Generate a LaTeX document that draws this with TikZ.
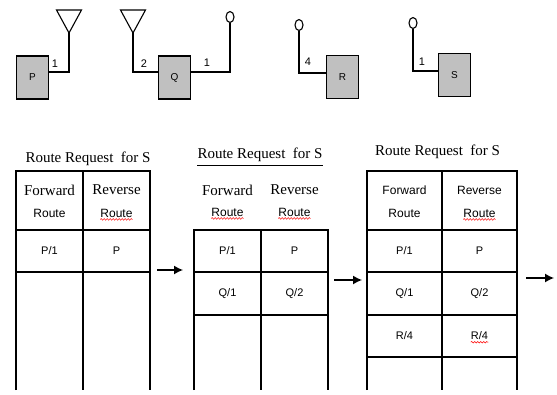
\documentclass[tikz,border=0pt]{standalone}
\usepackage{fontspec}
\setmainfont{Liberation Serif}
\newfontfamily\pixfont{Liberation Sans}
\usetikzlibrary{shapes.geometric,arrows.meta,decorations.pathmorphing}
\definecolor{boxgray}{RGB}{192,192,192}

\begin{document}
\begin{tikzpicture}[x=1pt,y=-1pt]
    % ==========================
    % 設定
    % ==========================
    \def\btm{390} % 表の下端
    \tikzset{
        nodebox/.style={draw, fill=boxgray, line width=1.3pt, minimum width=32pt, minimum height=43pt, inner sep=0pt, font=\pixfont\fontsize{10}{10}\selectfont}, % ノードの箱
        ant/.style={ellipse, draw, line width=1.1pt, minimum width=8pt, minimum height=11pt, inner sep=0pt}, % 丸アンテナ
        wire/.style={line width=1.1pt},
        port/.style={font=\pixfont\fontsize{11}{11}\selectfont, inner sep=0pt}, % ポート番号
        title/.style={font=\fontsize{15}{17}\selectfont, inner sep=0pt},
        head/.style={font=\fontsize{15}{17}\selectfont, inner sep=0pt},
        headsf/.style={font=\pixfont\fontsize{12}{12}\selectfont, inner sep=0pt},
        sub/.style={font=\pixfont\fontsize{12}{12}\selectfont, inner sep=0pt},
        cell/.style={font=\pixfont\fontsize{11}{11}\selectfont, inner sep=0pt},
        grid/.style={line width=1.2pt},
        flow/.style={line width=1.3pt, -{Latex[length=9pt,width=9pt]}},
        typo/.style={red, line width=0.5pt, decorate, decoration={snake, amplitude=0.8pt, segment length=3pt}}
    }
    \useasboundingbox (0,0) rectangle (557,394);

    % ==========================
    % 1. 上段のノード
    % ==========================
    \node[nodebox] (P) at (32.5,77.5) {P};
    \node[nodebox] (Q) at (174.5,77.5) {Q};
    \node[nodebox] (R) at (342.5,77) {R};
    \node[nodebox] (S) at (454.5,75) {S};

    % P: 三角アンテナ
    \coordinate (Pj) at (69,72);
    \coordinate (Pa) at (69,33);
    \draw[wire] (P.east |- Pj) -- (Pj) -- (Pa);
    \draw[wire] (Pa) -- ++(-12.5,-23) -- ++(25,0) -- cycle;
    \node[port] (p1) at (55,64) {1};

    % Q: 左に三角, 右に丸
    \coordinate (Qj) at (133,72);
    \coordinate (Qa) at (133,33);
    \draw[wire] (Q.west |- Qj) -- (Qj) -- (Qa);
    \draw[wire] (Qa) -- ++(-12.5,-23) -- ++(25,0) -- cycle;
    \node[port] (q2) at (144,64) {2};

    \node[ant] (Qc) at (230,17) {};
    \coordinate (Qk) at (230,72);
    \draw[wire] (Q.east |- Qk) -- (Qk) -- (Qc.south);
    \node[port] (q1) at (207,63) {1};

    % R: 丸アンテナ
    \node[ant] (Rc) at (299,25) {};
    \coordinate (Rj) at (299,73);
    \draw[wire] (R.west |- Rj) -- (Rj) -- (Rc.south);
    \node[port] (r4) at (308,62) {4};

    % S: 丸アンテナ
    \node[ant] (Sc) at (413,23) {};
    \coordinate (Sj) at (413,71);
    \draw[wire] (S.west |- Sj) -- (Sj) -- (Sc.south);
    \node[port] (s1) at (422,62) {1};

    % ==========================
    % 2. 左の表
    % ==========================
    \begin{scope}[local bounding box=T1]
        \node[title] (t1) at (88,159) {Route Request~ for S};
        \draw[grid] (16,\btm) -- (16,171) -- (150,171) -- (150,\btm);
        \draw[grid] (83,171) -- (83,\btm);
        \foreach \y in {230,272} \draw[grid] (16,\y) -- (150,\y);

        \node[head] (t1f) at (49.5,190) {Forward};
        \node[sub] (t1fr) at (49.5,213) {Route};
        \node[head] (t1r) at (116.5,190) {Reverse};
        \node[sub] (t1rr) at (116.5,213) {Route};
        \draw[typo] ([yshift=-2pt]t1rr.south west) -- ([yshift=-2pt]t1rr.south east);

        \node[cell] (t1a) at (49.5,251) {P/1};
        \node[cell] (t1b) at (116.5,251) {P};
    \end{scope}

    % 矢印
    \coordinate (a1s) at (157,270);
    \coordinate (a1e) at (183,270);
    \draw[flow] (a1s) -- (a1e);

    % ==========================
    % 3. 真ん中の表
    % ==========================
    \begin{scope}[local bounding box=T2]
        \node[title] (t2) at (260,155) {Route Request~ for S};
        \draw[wire] ([yshift=-3pt]t2.south west) -- ([yshift=-3pt]t2.south east); % 下線
        \draw[grid] (194,\btm) -- (194,230) -- (328,230) -- (328,\btm);
        \draw[grid] (261,230) -- (261,\btm);
        \foreach \y in {272,315} \draw[grid] (194,\y) -- (328,\y);

        \node[head] (t2f) at (227.5,190) {Forward};
        \node[sub] (t2fr) at (227.5,212) {Route};
        \node[head] (t2r) at (294.5,190) {Reverse};
        \node[sub] (t2rr) at (294.5,212) {Route};
        \draw[typo] ([yshift=-2pt]t2fr.south west) -- ([yshift=-2pt]t2fr.south east);
        \draw[typo] ([yshift=-2pt]t2rr.south west) -- ([yshift=-2pt]t2rr.south east);

        \node[cell] (t2a) at (227.5,251) {P/1};
        \node[cell] (t2b) at (294.5,251) {P};
        \node[cell] (t2c) at (227.5,293.5) {Q/1};
        \node[cell] (t2d) at (294.5,293.5) {Q/2};
    \end{scope}

    % 矢印
    \coordinate (a2s) at (334,280);
    \coordinate (a2e) at (362,280);
    \draw[flow] (a2s) -- (a2e);

    % ==========================
    % 4. 右の表
    % ==========================
    \begin{scope}[local bounding box=T3]
        \node[title] (t3) at (437.5,152) {Route Request~ for S};
        \draw[grid] (367,\btm) -- (367,171) -- (517,171) -- (517,\btm);
        \draw[grid] (442,171) -- (442,\btm);
        \foreach \y in {230,272,315,357} \draw[grid] (367,\y) -- (517,\y);

        \node[headsf] (t3f) at (404.5,190) {Forward};
        \node[sub] (t3fr) at (404.5,213) {Route};
        \node[headsf] (t3r) at (479.5,190) {Reverse};
        \node[sub] (t3rr) at (479.5,213) {Route};
        \draw[typo] ([yshift=-2pt]t3rr.south west) -- ([yshift=-2pt]t3rr.south east);

        \node[cell] (t3a) at (404.5,251) {P/1};
        \node[cell] (t3b) at (479.5,251) {P};
        \node[cell] (t3c) at (404.5,293.5) {Q/1};
        \node[cell] (t3d) at (479.5,293.5) {Q/2};
        \node[cell] (t3e) at (404.5,336) {R/4};
        \node[cell] (t3g) at (479.5,336) {R/4};
        \draw[typo] ([yshift=-2pt]t3g.south west) -- ([yshift=-2pt]t3g.south east);
    \end{scope}

    % 矢印
    \coordinate (a3s) at (526,278);
    \coordinate (a3e) at (554,278);
    \draw[flow] (a3s) -- (a3e);

\end{tikzpicture}
\end{document}
